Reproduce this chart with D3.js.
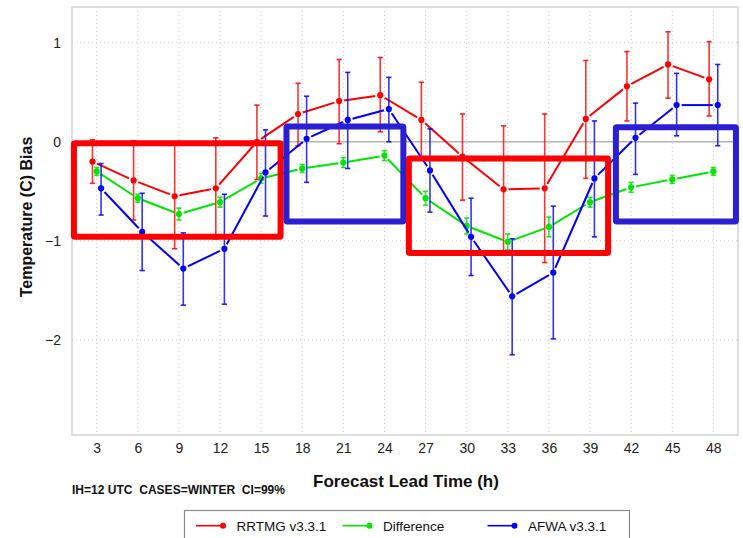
<!DOCTYPE html>
<html>
<head>
<meta charset="utf-8">
<script src="https://cdn.jsdelivr.net/npm/d3@7"></script>
<style>
  html, body { margin: 0; padding: 0; background: #fff; }
  svg { display: block; font-family: "Liberation Sans", Arial, Helvetica, sans-serif; }
</style>
</head>
<body>
<svg id="chart" width="743" height="538"></svg>
<script>
// ---------------- data ----------------
const leadTimes = [3, 6, 9, 12, 15, 18, 21, 24, 27, 30, 33, 36, 39, 42, 45, 48];

const rrtmgBias = [-0.20, -0.39, -0.55, -0.47, 0.00, 0.28, 0.41, 0.47, 0.22, -0.15, -0.48, -0.47, 0.23, 0.56, 0.78, 0.63];
const rrtmgLow  = [-0.42, -0.79, -1.08, -0.98, -0.38, -0.04, -0.02, 0.10, -0.16, -0.59, -1.12, -1.22, -0.37, 0.21, 0.44, 0.26];
const rrtmgHigh = [0.02, 0.01, -0.02, 0.04, 0.37, 0.59, 0.83, 0.85, 0.60, 0.28, 0.16, 0.28, 0.82, 0.91, 1.11, 1.01];

const diffBias  = [-0.30, -0.57, -0.73, -0.61, -0.37, -0.27, -0.21, -0.14, -0.57, -0.85, -1.01, -0.86, -0.61, -0.46, -0.38, -0.30];
const diffHalfCI = [0.04, 0.04, 0.06, 0.05, 0.05, 0.04, 0.05, 0.05, 0.07, 0.08, 0.08, 0.10, 0.05, 0.05, 0.04, 0.04];

const afwaBias  = [-0.47, -0.91, -1.28, -1.08, -0.31, 0.03, 0.22, 0.33, -0.29, -0.96, -1.56, -1.32, -0.37, 0.04, 0.37, 0.37];
const afwaLow   = [-0.74, -1.30, -1.65, -1.64, -0.75, -0.41, -0.27, 0.00, -0.71, -1.35, -2.15, -1.99, -0.96, -0.33, 0.06, -0.04];
const afwaHigh  = [-0.22, -0.52, -0.92, -0.53, 0.12, 0.46, 0.70, 0.65, 0.13, -0.57, -0.98, -0.65, 0.21, 0.39, 0.69, 0.78];

const yTickValues = [-2, -1, 0, 1];
const seriesNames = ["RRTMG v3.3.1", "Difference", "AFWA v3.3.1"];
const seriesColors = ["#ff0000", "#00e600", "#0000ff"];

// highlight boxes in data units: [xStart, xEnd, yTop, yBottom]
const boxExtents = [
  [1.34, 16.42, -0.015, -0.96],
  [16.85, 25.38, 0.154, -0.805],
  [25.78, 40.32, -0.17, -1.124],
  [40.89, 49.65, 0.146, -0.805]
];
const boxColors = ["#ff0000", "#2a1fd2", "#ff0000", "#2a1fd2"];

const xLabel = "Forecast Lead Time (h)";
const yLabel = "Temperature (C) Bias";
const noteText = "IH=12 UTC  CASES=WINTER  CI=99%";

// ---------------- layout ----------------
const plot = { left: 72, right: 738, top: 7, bottom: 435 };
const svg = d3.select("#chart");

const x = d3.scaleLinear().domain([1.2, 49.8]).range([plot.left, plot.right]);
const y = d3.scaleLinear().domain([-2.96, 1.36]).range([plot.bottom, plot.top]);

// grid
const grid = svg.append("g");
grid.selectAll("line.vg").data(leadTimes).join("line")
  .attr("x1", d => x(d)).attr("x2", d => x(d))
  .attr("y1", plot.top).attr("y2", plot.bottom)
  .attr("stroke", "#c8c8c8").attr("stroke-width", 1).attr("stroke-dasharray", "1,3");
grid.selectAll("line.hg").data(yTickValues).join("line")
  .attr("x1", plot.left).attr("x2", plot.right)
  .attr("y1", d => y(d)).attr("y2", d => y(d))
  .attr("stroke", d => d === 0 ? "#b4b4b4" : "#c8c8c8")
  .attr("stroke-width", d => d === 0 ? 1.3 : 1)
  .attr("stroke-dasharray", d => d === 0 ? null : "1,3");

// frame
svg.append("rect")
  .attr("x", plot.left).attr("y", plot.top)
  .attr("width", plot.right - plot.left).attr("height", plot.bottom - plot.top)
  .attr("fill", "none").attr("stroke", "#d4d4d4").attr("stroke-width", 1.5);

// axes
const xAxis = svg.append("g").attr("transform", `translate(0,${plot.bottom})`)
  .call(d3.axisBottom(x).tickValues(leadTimes).tickSize(0).tickPadding(8).tickFormat(d3.format("d")));
xAxis.select(".domain").remove();
xAxis.selectAll("text").attr("font-size", 14).attr("fill", "#222")
  .style("font-family", "'Liberation Sans', Arial, sans-serif");

const yAxis = svg.append("g").attr("transform", `translate(${plot.left},0)`)
  .call(d3.axisLeft(y).tickValues(yTickValues).tickSize(0).tickPadding(11).tickFormat(d3.format("d")));
yAxis.select(".domain").remove();
yAxis.selectAll("text").attr("font-size", 14).attr("fill", "#222")
  .style("font-family", "'Liberation Sans', Arial, sans-serif");

// titles
svg.append("text").attr("x", 406).attr("y", 486.5).attr("text-anchor", "middle")
  .attr("font-size", 17).attr("font-weight", "bold").attr("fill", "#111").text(xLabel);
svg.append("text").attr("transform", "translate(32,217) rotate(-90)").attr("text-anchor", "middle")
  .attr("font-size", 16).attr("font-weight", "bold").attr("fill", "#111").text(yLabel);
svg.append("text").attr("x", 72).attr("y", 493.5)
  .attr("font-size", 12).attr("font-weight", "bold").attr("fill", "#111")
  .style("white-space", "pre").attr("xml:space", "preserve")
  .attr("textLength", 213).attr("lengthAdjust", "spacingAndGlyphs").text(noteText);

// series
const pxOffset = [-4.2, 0, 4.4];
const seriesData = [
  leadTimes.map((t, i) => ({ t, v: rrtmgBias[i], lo: rrtmgLow[i], hi: rrtmgHigh[i] })),
  leadTimes.map((t, i) => ({ t, v: diffBias[i], lo: diffBias[i] - diffHalfCI[i], hi: diffBias[i] + diffHalfCI[i] })),
  leadTimes.map((t, i) => ({ t, v: afwaBias[i], lo: afwaLow[i], hi: afwaHigh[i] }))
];

const gap = 5;
seriesData.forEach((data, s) => {
  const col = seriesColors[s];
  const g = svg.append("g");
  const px = d => x(d.t) + pxOffset[s];
  // error bars
  g.selectAll("line.eb").data(data).join("line")
    .attr("x1", px).attr("x2", px)
    .attr("y1", d => y(d.hi)).attr("y2", d => y(d.lo))
    .attr("stroke", col).attr("stroke-width", 1.6).attr("opacity", 0.8);
  ["hi", "lo"].forEach(k => {
    g.selectAll("line.cap" + k).data(data).join("line")
      .attr("x1", d => px(d) - 2.6).attr("x2", d => px(d) + 2.6)
      .attr("y1", d => y(d[k])).attr("y2", d => y(d[k]))
      .attr("stroke", col).attr("stroke-width", 1.6).attr("opacity", 0.85);
  });
  // line segments with gaps (type "b")
  const segs = d3.pairs(data).map(([a, b]) => {
    const x1 = px(a), y1 = y(a.v), x2 = px(b), y2 = y(b.v);
    const L = Math.hypot(x2 - x1, y2 - y1);
    const ux = (x2 - x1) / L, uy = (y2 - y1) / L;
    return { x1: x1 + ux * gap, y1: y1 + uy * gap, x2: x2 - ux * gap, y2: y2 - uy * gap };
  });
  g.selectAll("line.seg").data(segs).join("line")
    .attr("x1", d => d.x1).attr("y1", d => d.y1).attr("x2", d => d.x2).attr("y2", d => d.y2)
    .attr("stroke", col).attr("stroke-width", 2);
  g.selectAll("circle").data(data).join("circle")
    .attr("cx", px).attr("cy", d => y(d.v)).attr("r", 3.1).attr("fill", col);
});

// highlight boxes
svg.append("g").selectAll("rect").data(boxExtents).join("rect")
  .attr("x", d => x(d[0])).attr("y", d => y(d[2]))
  .attr("width", d => x(d[1]) - x(d[0])).attr("height", d => y(d[3]) - y(d[2]))
  .attr("fill", "none").attr("stroke", (d, i) => boxColors[i]).attr("stroke-width", 6)
  .attr("rx", 1);

// legend
const legend = svg.append("g");
legend.append("rect").attr("x", 184.5).attr("y", 510.5).attr("width", 445).attr("height", 40)
  .attr("fill", "#fff").attr("stroke", "#8a8a8a").attr("stroke-width", 1.2);
const legendX = [196, 342.5, 487.5];
seriesNames.forEach((name, i) => {
  const lx = legendX[i];
  legend.append("line").attr("x1", lx).attr("x2", lx + 27).attr("y1", 525.7).attr("y2", 525.7)
    .attr("stroke", seriesColors[i]).attr("stroke-width", 1.6);
  legend.append("circle").attr("cx", lx + 27).attr("cy", 525.7).attr("r", 3).attr("fill", seriesColors[i]);
  legend.append("text").attr("x", lx + 40.5).attr("y", 530.5).attr("font-size", 13.5).attr("fill", "#111").text(name);
});
</script>
</body>
</html>
